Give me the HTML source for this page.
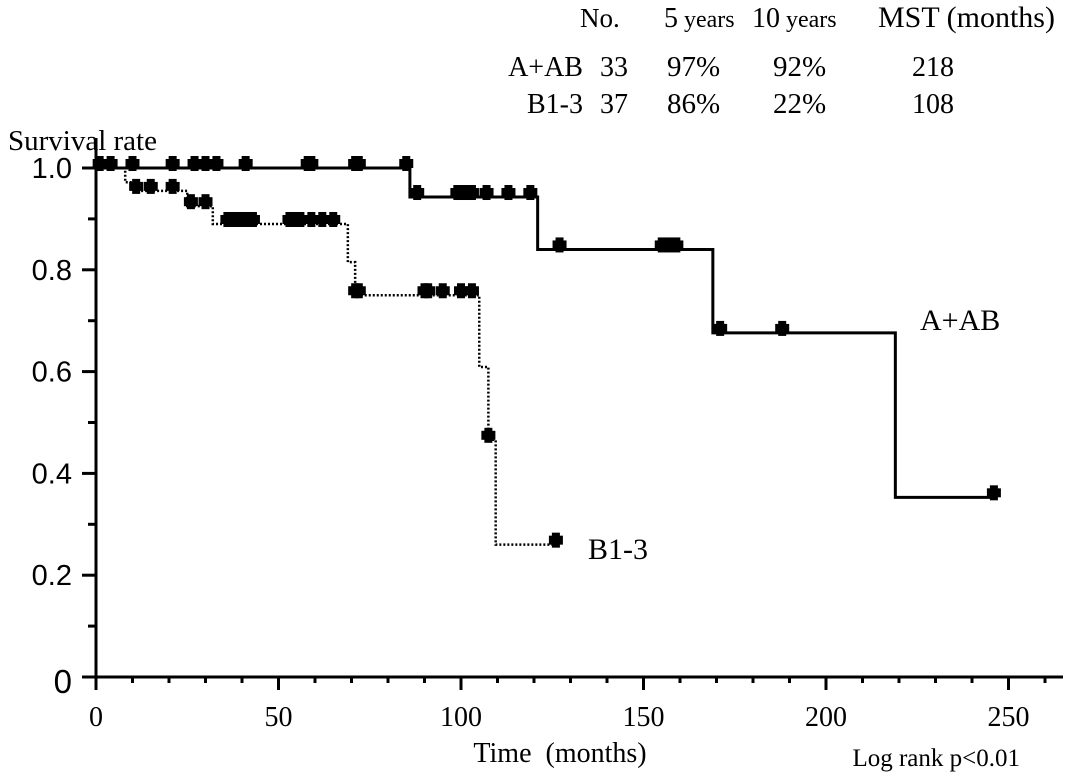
<!DOCTYPE html>
<html><head><meta charset="utf-8"><style>
body{margin:0;background:#fff}
svg{display:block;font-family:"Liberation Serif",serif}
</style></head><body>
<svg id="c" width="1075" height="780"></svg>
<script>
const xTicks=[0,50,100,150,200,250];
const yTicks=[0,0.2,0.4,0.6,0.8,1.0];
const yLabels=["0","0.2","0.4","0.6","0.8","1.0"];
const aTimes=[0,86,121,169,219,246];
const aSurv=[1.0,0.943,0.84,0.676,0.353,0.353];
const aCens=[1,4,10,21,27,30,33,41,58,59,71,72,85,88,99,101,103,107,113,119,127,155,157,159,171,188,246];
const bTimes=[0,8,10,25,32,69,71,105,107.5,109.5,126];
const bSurv=[1.0,0.972,0.955,0.925,0.89,0.815,0.75,0.609,0.466,0.26,0.26];
const bCens=[11,15,21,26,30,36,37,38,39,41,43,53,55,56,59,62,65,71,72,90,91,95,100,103,107.5,126];
const X=t=>96+t*3.65, Y=v=>677-v*509;
const svg=document.getElementById('c');const NS='http://www.w3.org/2000/svg';
function el(tag,attrs,parent){const e=document.createElementNS(NS,tag);for(const k in attrs)e.setAttribute(k,attrs[k]);(parent||svg).appendChild(e);return e;}
function txt(x,y,s,size,anchor,name,fam){const t=el('text',{x:x,y:y,'font-size':size,'text-anchor':anchor||'start',fill:'#000'});if(fam)t.setAttribute('font-family',fam);t.textContent=s;

return t;}
const ax=el('line',{x1:96,y1:677,x2:1063,y2:677,stroke:'#000','stroke-width':3});


const ay=el('line',{x1:96,y1:677,x2:96,y2:138,stroke:'#000','stroke-width':3});


for(let t=0;t<=260;t+=10){const major=t%50===0;el('line',{x1:X(t),y1:677,x2:X(t),y2:major?690:683,stroke:'#000','stroke-width':3});}
xTicks.forEach(t=>txt(X(t),726,String(t),28,'middle','x-tick-label'));
for(let v=0;v<=1.001;v+=0.1){const major=Math.round(v*10)%2===0;el('line',{x1:major?82:88,y1:Y(v),x2:96,y2:Y(v),stroke:'#000','stroke-width':3});}
yTicks.forEach((v,i)=>txt(72,Y(v)+(i===0?16:10),yLabels[i],i===0?33:29,'end','y-tick-label','"Liberation Sans",sans-serif'));
txt(8,150,'Survival rate',29,'start','y-axis-title');
txt(560,762,'Time\u00a0\u00a0(months)',28,'middle','x-axis-title');
txt(1020,766,'Log rank p<0.01',25,'end','log-rank-note');
txt(580,27,'No.',27,'start','table-header-no');
const h5=txt(664,27,'5',28,'start','table-header-5y');const ts=el('tspan',{'font-size':24},h5);ts.textContent=' years';
const h10=txt(752,27,'10',28,'start','table-header-10y');const ts2=el('tspan',{'font-size':24},h10);ts2.textContent=' years';
txt(878,27,'MST (months)',30,'start','table-header-mst');
txt(583,76,'A+AB',28,'end','row-label-a');txt(600,76,'33',28,'start','a-no');txt(667,76,'97%',29,'start','a-5y');txt(773,76,'92%',29,'start','a-10y');txt(912,76,'218',28,'start','a-mst');
txt(583,113,'B1-3',28,'end','row-label-b');txt(600,113,'37',28,'start','b-no');txt(667,113,'86%',29,'start','b-5y');txt(773,113,'22%',29,'start','b-10y');txt(912,113,'108',28,'start','b-mst');
function step(times,surv,dash,name){let d='M'+X(times[0])+' '+Y(surv[0]);for(let i=1;i<times.length;i++){d+=' H'+X(times[i])+' V'+Y(surv[i]);}
const p=el('path',{d:d,fill:'none',stroke:'#000','stroke-width':dash?2.5:3,'stroke-dasharray':dash?'2 2':'none'});

}
function survAt(times,surv,t){let s=surv[0];for(let i=0;i<times.length;i++){if(times[i]<=t)s=surv[i];}return s;}
function cens(list,times,surv,name){list.forEach(t=>{const cx=X(t),cy=Y(survAt(times,surv,t))-5;
const g=el('g',{});


el('rect',{x:cx-7,y:cy-4,width:14,height:9,fill:'#000'},g);el('rect',{x:cx-4,y:cy-7,width:8,height:15,fill:'#000'},g);});}
step(aTimes,aSurv,false,'a-ab-curve');step(bTimes,bSurv,true,'b1-3-curve');
cens(aCens,aTimes,aSurv,'a-ab-censor');cens(bCens,bTimes,bSurv,'b1-3-censor');
txt(920,330,'A+AB',30,'start','a-ab-label');
txt(588,559,'B1-3',30,'start','b1-3-label');
</script>
</body></html>
